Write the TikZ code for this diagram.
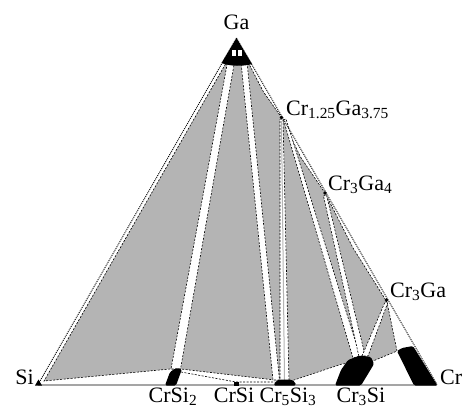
\documentclass[tikz,border=0pt]{standalone}
\usepackage{fontspec}
\setmainfont{Liberation Serif}
\usepackage{tikz}
\usetikzlibrary{calc,positioning}
\definecolor{phasegray}{RGB}{180,180,180}
\definecolor{edgegray}{RGB}{165,165,165}

\begin{document}
\begin{tikzpicture}[x=1pt, y=-1pt,
	lab/.style={font=\fontsize{22}{25}\selectfont, inner sep=0pt},
	twophase/.style={fill=white, draw=black, line width=0.6pt, dash pattern=on 2pt off 1.5pt},
	threephase/.style={fill=phasegray, draw=black, line width=0.6pt, dash pattern=on 2pt off 1.5pt},
	tie/.style={draw=black, line width=0.6pt, dash pattern=on 2pt off 1.5pt},
	rim/.style={line width=0.9pt, dash pattern=on 1pt off 1pt},
	single/.style={fill=black, rounded corners=1.5pt}]
	\useasboundingbox (0,0) rectangle (463,410);

	\coordinate (Ga) at (236.5,38);
	\coordinate (Si) at (38,384.5);
	\coordinate (Cr) at (437,384.5);
	\coordinate (cr1ga3) at (281.5,117.5);
	\coordinate (cr3ga4) at (325,193);
	\coordinate (cr3ga) at (386.5,300);
	\coordinate (crsi2) at (173,384.5);
	\coordinate (crsi) at (234,384.5);
	\coordinate (cr5si3) at (288,384.5);
	\coordinate (cr3si) at (361,384.5);

	\filldraw[threephase] (225.5,64) -- (44,381) -- (170,369) -- (181,369) -- (275,380) -- (291,381) -- (342,364) -- (373,361) -- (397,351) -- (387,302) -- (353,248) -- (cr3ga4) -- (300.5,157) -- (cr1ga3) -- (263.5,92) -- (249,64) -- cycle;
	\filldraw[twophase] (227.5,62) -- (234.5,62) -- (180.5,369) -- (171,369) -- cycle;
	\filldraw[twophase] (241,62) -- (247,62) -- (279.5,380) -- (273,380) -- cycle;
	\filldraw[twophase] (280,119) -- (283,119) -- (289,381) -- (280,381) -- cycle;
	\draw[phasegray, line width=1pt] (281.5,121) -- (284.5,380);
	\filldraw[twophase] (283.5,120) -- (286,119) -- (360,356) -- (353,358) -- cycle;
	\filldraw[twophase] (323.5,196) -- (326.5,195) -- (365,355) -- (359,357) -- cycle;
	\filldraw[twophase] (385,302) -- (388,302) -- (368,356) -- (362,356) -- cycle;
	\draw[tie] (181,372) -- (236,382) -- (275,382);

	\draw[edgegray, line width=2pt] (Si) -- (Cr);
	\fill[single] (165,385.5) -- (170,372) -- (176,368) -- (182,369) -- (176,385.5) -- cycle;
	\fill (233.5,381.5) rectangle (238.5,385.5);
	\fill[single] (273.5,385.5) -- (276,381) -- (280,379.5) -- (291,379.5) -- (295,382) -- (296,385.5) -- cycle;
	\fill[single] (335,385.5) -- (341,370) -- (348,360) -- (360,355.5) -- (371,357) -- (374,364) -- (361,385.5) -- cycle;
	\fill[single] (414,385.5) -- (397,351) -- (402,348) -- (413,346) -- (437.5,385.5) -- cycle;

	\fill (Ga) -- (252,64) .. controls (244,66.5) and (230,66.5) .. (221.5,63) -- cycle;
	\fill[white] (232,50) rectangle (236,55.5);
	\fill[white] (237.5,50) rectangle (241.5,55.5);
	\fill (35,385.5) -- (42,385.5) -- (38.5,379.5) -- cycle;

	\draw[rim] (Ga) -- (Si);
	\draw[rim] (Ga) -- (Cr);
	\foreach \p in {cr1ga3, cr3ga4, cr3ga}
		\fill (\p) circle (1.8);

	\node[lab] (lga) at (Ga) [above=8pt] {Ga};
	\node[lab, anchor=base east] (lsi) at ($(Si)+(-4,0)$) {Si};
	\node[lab, anchor=base west] (lcr) at ($(Cr)+(3,0)$) {Cr};
	\node[lab, anchor=base west] (lcr1ga3) at ($(cr1ga3)+(4.5,-2.5)$) {Cr\textsubscript{1.25}Ga\textsubscript{3.75}};
	\node[lab, anchor=base west] (lcr3ga4) at ($(cr3ga4)+(3,-3)$) {Cr\textsubscript{3}Ga\textsubscript{4}};
	\node[lab, anchor=base west] (lcr3ga) at ($(cr3ga)+(3.5,-3)$) {Cr\textsubscript{3}Ga};
	\node[lab] (lcrsi2) at (crsi2) [below=3pt] {CrSi\textsubscript{2}};
	\node[lab] (lcrsi) at (crsi) [below=3pt] {CrSi};
	\node[lab] (lcr5si3) at (cr5si3) [below=3pt] {Cr\textsubscript{5}Si\textsubscript{3}};
	\node[lab] (lcr3si) at (cr3si) [below=3pt] {Cr\textsubscript{3}Si};
\end{tikzpicture}
\end{document}
